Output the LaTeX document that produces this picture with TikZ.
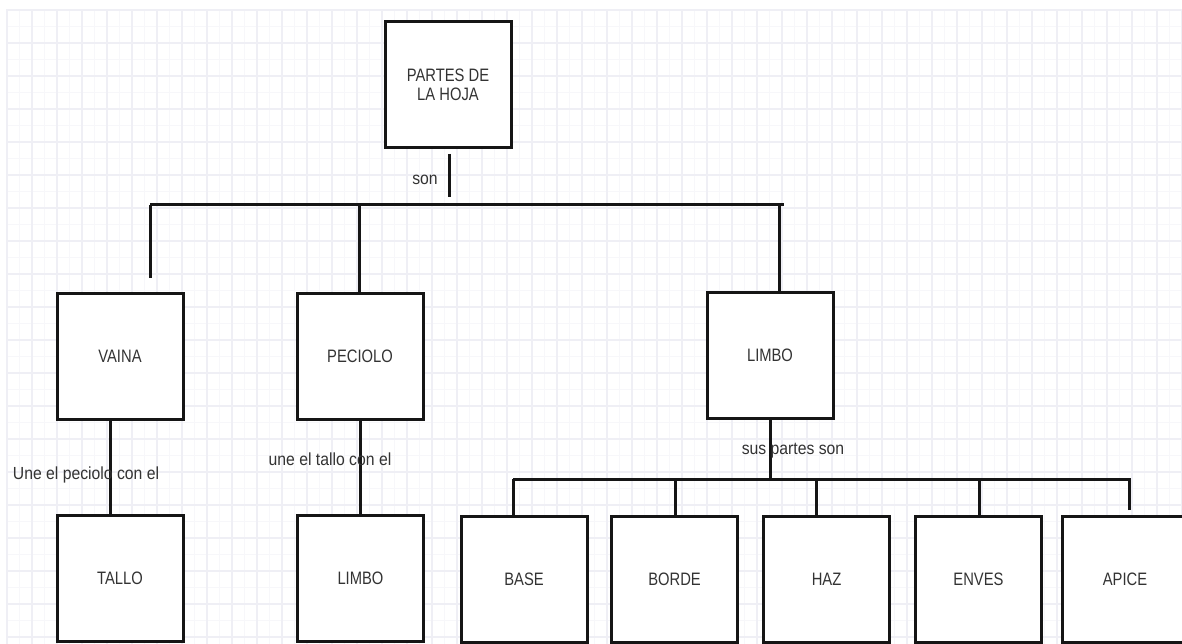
\documentclass[tikz,border=0pt]{standalone}
\usepackage{fontspec}
\setmainfont{Liberation Sans}[FakeStretch=0.82]
\newfontfamily\lblfont{Liberation Sans}[FakeStretch=0.9]
\definecolor{linec}{HTML}{151515}
\definecolor{txt}{HTML}{333333}
\definecolor{gmaj}{HTML}{EFEFF5}
\definecolor{gmin}{HTML}{F7F7FA}
\begin{document}
\begin{tikzpicture}[x=1pt,y=-1pt,
  box/.style={draw=linec, line width=3pt, fill=white, minimum width=126pt, minimum height=126pt, inner sep=0pt, text=txt, font=\fontsize{18}{19}\selectfont, align=center},
  conn/.style={draw=linec, line width=3pt},
  lbl/.style={text=txt, font=\lblfont\fontsize{17.5}{19}\selectfont, inner sep=0pt},
  gridmaj/.style={draw=gmaj, line width=1.2pt},
  gridmin/.style={draw=gmin, line width=0.8pt}]
\useasboundingbox (0,0) rectangle (1182,644);
\fill[white] (0,0) rectangle (1182,644);
% grid
\foreach \k in {0,...,19} {\draw[gridmin] (6,26.5+33*\k) -- (1182,26.5+33*\k);}
\foreach \k in {0,...,47} {\draw[gridmin] (19.5+25*\k,10) -- (19.5+25*\k,644);}
\foreach \k in {0,...,19} {\draw[gridmaj] (6,10+33*\k) -- (1182,10+33*\k);}
\foreach \k in {0,...,47} {\draw[gridmaj] (7+25*\k,10) -- (7+25*\k,644);}
% boxes
\node[box] (top) at (448,85) {PARTES DE\\LA HOJA};
\node[box] (vaina) at (120,356) {VAINA};
\node[box] (peciolo) at (360,356) {PECIOLO};
\node[box] (limbo) at (770,355.5) {LIMBO};
\node[box] (tallo) at (120,578.5) {TALLO};
\node[box] (limbob) at (360.5,578.5) {LIMBO};
\node[box] (base) at (524,579.5) {BASE};
\node[box] (borde) at (674.5,579.5) {BORDE};
\node[box] (haz) at (826.5,579.5) {HAZ};
\node[box] (enves) at (978.5,579.5) {ENVES};
\node[box] (apice) at (1125,579.5) {APICE};
% coordinates
\coordinate (s1) at (449,154);
\coordinate (s2) at (449,197);
\coordinate (b1) at (150,205);
\coordinate (b2) at (784,205);
\coordinate (v1) at (150,278);
\coordinate (c1) at (513,479);
\coordinate (c2) at (1131,479);
\coordinate (a1) at (1129,510);
% connectors
\draw[conn] (s1) -- (s2);
\draw[conn] (b1) -- (b2);
\draw[conn] (b1) -- (v1);
\draw[conn] (peciolo.north -| 359,0) -- (359,205);
\draw[conn] (limbo.north -| 779,0) -- (779,205);
\draw[conn] (vaina.south -| 110,0) -- (tallo.north -| 110,0);
\draw[conn] (peciolo.south) -- (limbob.north -| peciolo.south);
\draw[conn] (limbo.south) -- (limbo.south |- c1);
\draw[conn] (c1) -- (c2);
\draw[conn] (base.north -| c1) -- (c1);
\draw[conn] (borde.north -| 675,0) -- (675,479);
\draw[conn] (haz.north -| 816,0) -- (816,479);
\draw[conn] (enves.north -| 979,0) -- (979,479);
\draw[conn] (a1) -- (1129,479);
% labels
\node[lbl] (lson) at (425,180) {son};
\node[lbl] (lune1) at (86,475) {Une el peciolo con el};
\node[lbl] (lune2) at (330,459) {une el tallo con el};
\node[lbl] (lsus) at (793,451) {sus partes son};
\end{tikzpicture}
\end{document}
